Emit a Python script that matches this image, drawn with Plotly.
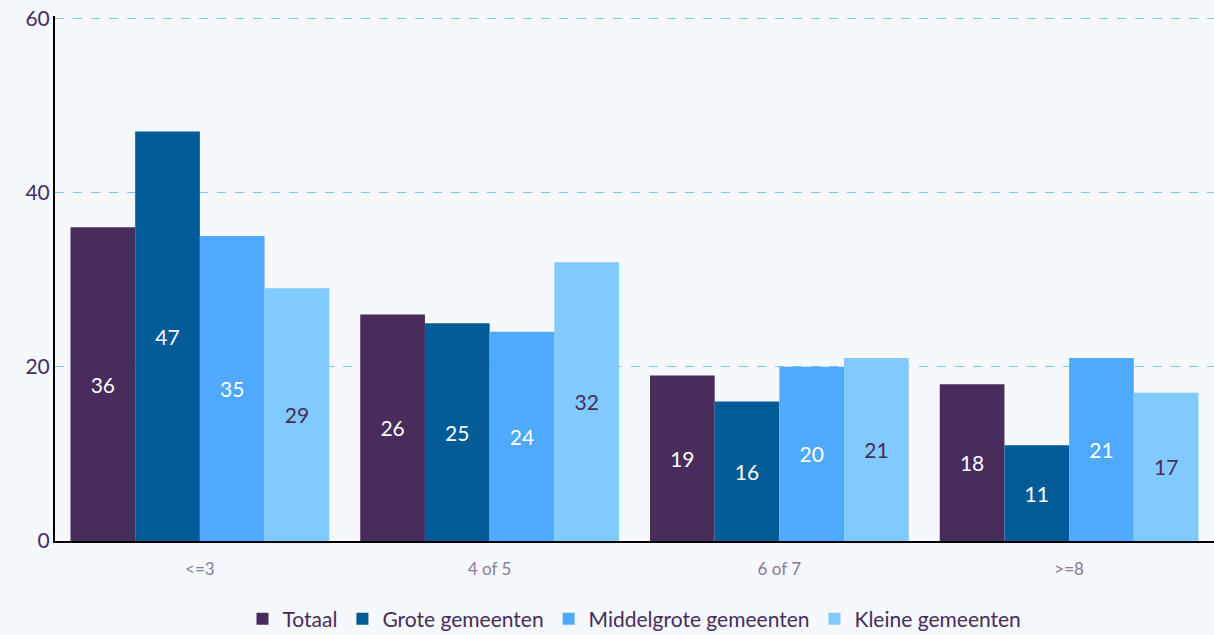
import plotly.graph_objects as go

categories = ["<=3", "4 of 5", "6 of 7", ">=8"]
totaal = [36, 26, 19, 18]
grote = [47, 25, 16, 11]
middelgrote = [35, 24, 20, 21]
kleine = [29, 32, 21, 17]

series = [
    ("Totaal", totaal, "#472c5c", "white"),
    ("Grote gemeenten", grote, "#005b96", "white"),
    ("Middelgrote gemeenten", middelgrote, "#4fa9ff", "white"),
    ("Kleine gemeenten", kleine, "#80caff", "#472c5c"),
]

fig = go.Figure()
for name, vals, color, tcolor in series:
    fig.add_trace(go.Bar(
        name=name, x=categories, y=vals, marker_color=color,
        marker_line_width=0,
        text=[str(v) for v in vals], textposition="inside",
        insidetextanchor="middle",
        textfont=dict(color=tcolor, size=21, family="Lato"),
        hoverinfo="skip",
    ))

fig.update_layout(
    width=1214, height=635,
    barmode="group", bargap=0.107, bargroupgap=0,
    paper_bgcolor="#f5f8fd", plot_bgcolor="#f5f8fd",
    margin=dict(l=55, r=0, t=16, b=94, autoexpand=False),
    font=dict(family="Lato", color="#472c5c"),
    legend=dict(orientation="h", x=0.5, xanchor="center",
                yref="container", y=0.025, yanchor="middle",
                font=dict(size=21, color="#472c5c"), itemwidth=30,
                traceorder="normal"),
    uniformtext=dict(mode=False),
)
fig.update_yaxes(range=[0, 60.25], tickvals=[0, 20, 40, 60], showgrid=True,
                 gridcolor="#7cc6f4", griddash="dash", gridwidth=1,
                 zeroline=False, showline=True, linecolor="black", linewidth=2,
                 tickfont=dict(size=21, color="#472c5c"), ticks="",
                 ticklabelstandoff=-1)
fig.update_xaxes(showline=True, linecolor="black", linewidth=2,
                 tickfont=dict(size=17, color="#8a7a9a"), ticks="",
                 ticklabelstandoff=12)

fig.write_html("out.html", config={"displayModeBar": False},
               post_script="document.body.style.margin='0';document.body.style.padding='0';")
